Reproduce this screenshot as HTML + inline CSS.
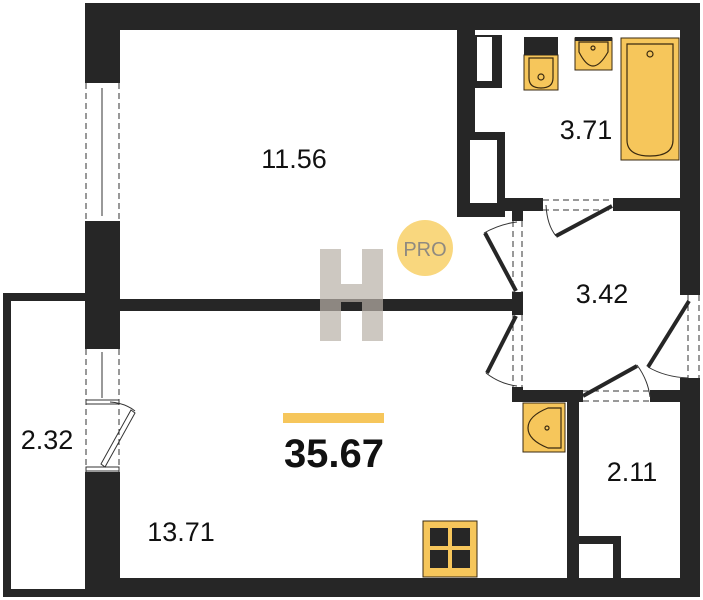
<!DOCTYPE html>
<html><head><meta charset="utf-8"><style>
html,body{margin:0;padding:0;background:#fff;}
svg{display:block;}
text{font-family:"Liberation Sans","DejaVu Sans",sans-serif;}
</style></head><body>
<svg width="703" height="600" viewBox="0 0 703 600" xmlns="http://www.w3.org/2000/svg">
<rect width="703" height="600" fill="#fff"/>
<g fill="#262626">
<rect x="85" y="3" width="615" height="27"/>
<rect x="680" y="3" width="20" height="292"/>
<rect x="680" y="378" width="20" height="219"/>
<rect x="85" y="578" width="615" height="19"/>
<rect x="85" y="3" width="35" height="80"/>
<rect x="85" y="221" width="35" height="128"/>
<rect x="85" y="472" width="35" height="125"/>
<rect x="3" y="293" width="82" height="8"/>
<rect x="3" y="293" width="8" height="304"/>
<rect x="3" y="589" width="82" height="8"/>
<rect x="120" y="299" width="395" height="12"/>
<rect x="457" y="27" width="18" height="190"/>
<rect x="475" y="35" width="27" height="53"/>
<rect x="457" y="132" width="48" height="85"/>
<rect x="505" y="198" width="38" height="13"/>
<rect x="613" y="198" width="67" height="13"/>
<rect x="512" y="211" width="11" height="10"/>
<rect x="512" y="292" width="11" height="23"/>
<rect x="512" y="387" width="11" height="15"/>
<rect x="512" y="390" width="71" height="12"/>
<rect x="650" y="390" width="30" height="12"/>
<rect x="567" y="390" width="12" height="190"/>
<rect x="579" y="536" width="42" height="42"/>
</g>
<g fill="#fff">
<rect x="477" y="37" width="15" height="44"/>
<rect x="470" y="140" width="27" height="63"/>
<rect x="579" y="544" width="34" height="34"/>
</g>
<g stroke="#333" fill="none" stroke-width="1">
<line x1="86" y1="83" x2="86" y2="221" stroke-dasharray="6,4"/>
<line x1="119" y1="83" x2="119" y2="221" stroke-dasharray="6,4"/>
<line x1="102" y1="88" x2="102" y2="216"/>
<line x1="86" y1="349" x2="86" y2="472" stroke-dasharray="6,4"/>
<line x1="119" y1="349" x2="119" y2="472" stroke-dasharray="6,4"/>
<line x1="102" y1="352" x2="102" y2="398"/>
<rect x="86" y="400" width="33" height="4"/>
<rect x="86" y="467" width="33" height="4"/>
<path d="M105 467 L135 413 L131 410 L101 464 Z"/>
<path d="M110 402 Q125 403 135 411"/>
<line x1="543" y1="200" x2="613" y2="200" stroke-dasharray="6,4"/>
<line x1="543" y1="210" x2="613" y2="210" stroke-dasharray="6,4"/>
<line x1="513" y1="221" x2="513" y2="292" stroke-dasharray="6,4"/>
<line x1="522" y1="221" x2="522" y2="292" stroke-dasharray="6,4"/>
<line x1="513" y1="315" x2="513" y2="387" stroke-dasharray="6,4"/>
<line x1="522" y1="315" x2="522" y2="387" stroke-dasharray="6,4"/>
<line x1="688" y1="295" x2="688" y2="378" stroke-dasharray="6,4"/>
<line x1="699" y1="295" x2="699" y2="378" stroke-dasharray="6,4"/>
<line x1="583" y1="391" x2="650" y2="391" stroke-dasharray="6,4"/>
<line x1="583" y1="401" x2="650" y2="401" stroke-dasharray="6,4"/>
<path d="M546 205 Q547 225 556 236"/>
<path d="M484 233 Q500 224 517 222"/>
<path d="M486 373 Q500 384 517 386"/>
<path d="M648 367 Q665 377 688 378"/>
<path d="M637 365 Q648 380 650 397"/>
</g>
<g stroke="#262626" stroke-width="4" stroke-linecap="butt">
<line x1="612" y1="206" x2="556" y2="236"/>
<line x1="516" y1="291" x2="485" y2="233"/>
<line x1="516" y1="316" x2="487" y2="373"/>
<line x1="689" y1="301" x2="648" y2="367"/>
<line x1="583" y1="396" x2="637" y2="366"/>
</g>
<g stroke="#3a2a10" stroke-width="1">
<rect x="524" y="55" width="34" height="35" fill="#f6c65b"/>
<rect x="575" y="38" width="37" height="32" fill="#f6c65b"/>
<rect x="621" y="38" width="58" height="122" fill="#f6c65b"/>
<rect x="523" y="403" width="42" height="49" fill="#f6c65b"/>
<rect x="423" y="521" width="54" height="56" fill="#f6c65b"/>
</g>
<rect x="524" y="37" width="34" height="18" fill="#262626"/>
<rect x="575" y="37" width="37" height="4" fill="#262626"/>
<g fill="none" stroke="#3a2a10" stroke-width="1.2">
<path d="M529 58 V78 Q529 88 541 88 Q553 88 553 78 V58 Z"/>
<circle cx="541" cy="77" r="3"/>
<path d="M579 42 H608 V52 Q600 66 593 66 Q586 66 579 52 Z"/>
<circle cx="593" cy="48" r="2"/>
<path d="M627 44 H673 V140 Q673 156 650 156 Q627 156 627 140 Z"/>
<circle cx="650" cy="54" r="3"/>
<path d="M561 408 H548 Q528 416 528 428 Q528 440 548 448 H561 Z"/>
<circle cx="547" cy="428" r="2"/>
</g>
<g fill="#262626">
<rect x="430" y="528" width="18" height="18"/><rect x="452" y="528" width="18" height="18"/>
<rect x="430" y="550" width="18" height="18"/><rect x="452" y="550" width="18" height="18"/>
</g>
<g fill="#b9b1a8" opacity="0.7">
<rect x="320" y="249" width="21" height="92"/>
<rect x="362" y="249" width="21" height="92"/>
<rect x="341" y="284" width="21" height="18"/>
</g>
<circle cx="425" cy="248" r="28" fill="#f9d77e"/>
<text x="425" y="256" font-size="20" fill="#8f8a80" text-anchor="middle">PRO</text>
<rect x="283" y="413" width="101" height="10" fill="#f6c65b"/>
<text x="334" y="467" font-size="40" font-weight="bold" fill="#111" text-anchor="middle">35.67</text>
<g font-size="27" fill="#111" text-anchor="middle">
<text x="294" y="168">11.56</text>
<text x="586" y="139">3.71</text>
<text x="602" y="303">3.42</text>
<text x="47" y="449">2.32</text>
<text x="181" y="541">13.71</text>
<text x="632" y="481">2.11</text>
</g>
</svg>
</body></html>
